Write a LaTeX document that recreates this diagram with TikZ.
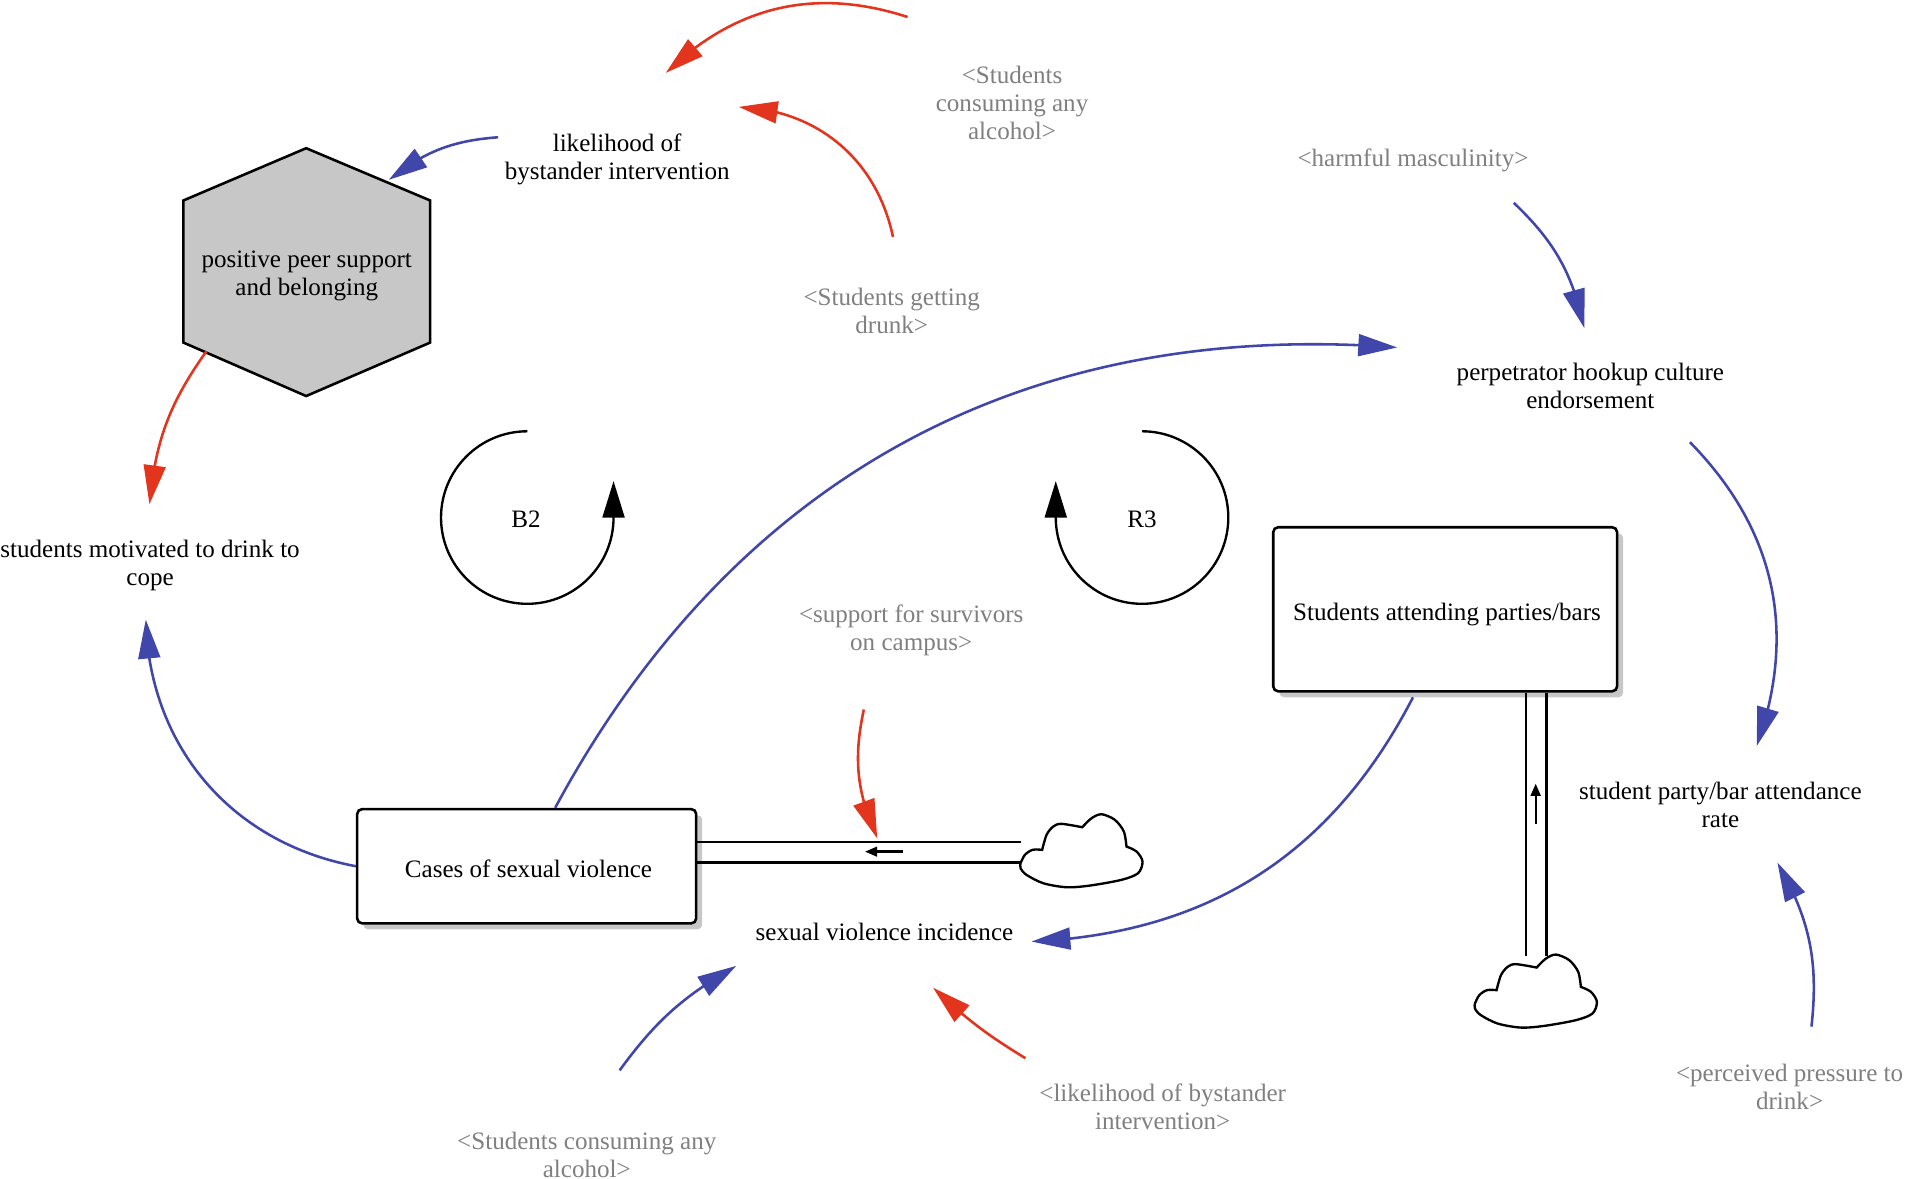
\documentclass[tikz,border=0pt]{standalone}
\usepackage{fontspec}
\setmainfont{Liberation Serif}
\usetikzlibrary{arrows.meta,bending,shadows}

\definecolor{linkblue}{RGB}{64,70,170}
\definecolor{linkred}{RGB}{227,52,30}

\tikzset{
  every node/.append style={font=\fontsize{5.87}{6.55}\selectfont, align=center, inner sep=0pt},
  var/.style={text=black},
  ghost/.style={text=black!50},
  stock/.style={draw=black, line width=0.6pt, rounded corners=0.04cm, fill=white,
    drop shadow={shadow xshift=0.05cm, shadow yshift=-0.05cm, fill=black!22, opacity=1}},
  linkb/.style={-{Triangle[length=0.32cm, width=0.18cm, flex]}, draw=linkblue, line width=0.6pt},
  linkr/.style={-{Triangle[length=0.32cm, width=0.18cm, flex]}, draw=linkred, line width=0.6pt},
  pipe/.style={draw=black, line width=0.55pt},
  flowtip/.style={-{Triangle[length=0.10cm, width=0.08cm]}, draw=black, line width=0.55pt},
  looptip/.style={-{Triangle[length=0.30cm, width=0.18cm]}, draw=black, line width=0.55pt},
  flowcloud/.pic={
    \draw [line width=0.55pt, fill=white]
      plot [smooth] coordinates {(0,0) (0.036,0.069) (0.099,0.110) (0.178,0.110)}
      -- plot [smooth] coordinates {(0.178,0.110) (0.214,0.233) (0.269,0.302) (0.337,0.324) (0.508,0.296)}
      -- plot [smooth] coordinates {(0.508,0.296) (0.584,0.370) (0.667,0.403) (0.776,0.357) (0.850,0.261) (0.872,0.137)}
      -- plot [smooth] coordinates {(0.872,0.137) (0.955,0.096) (1.004,0.014) (0.968,-0.082) (0.831,-0.137)
        (0.571,-0.184) (0.379,-0.198) (0.187,-0.165) (0.049,-0.096) (0,-0.041) (0,0)};
  }
}

\begin{document}
\begin{tikzpicture}

\useasboundingbox (0, 0) rectangle (15.68, 9.70);

\draw [line width=0.6pt, fill=black!22] (2.52, 8.48) -- (3.54, 8.05) -- (3.54, 6.88) -- (2.52, 6.44) -- (1.51, 6.88) -- (1.51, 8.05) -- cycle;

\node [var] (likelihood) at (5.08, 8.39) {likelihood of\\bystander intervention};
\node [var] (peer) at (2.525, 7.425) {positive peer support\\and belonging};
\node [var] (motivated) at (1.235, 5.045) {students motivated to drink to\\cope};
\node [var] (hookup) at (13.09, 6.52) {perpetrator hookup culture\\endorsement};
\node [var] (rate) at (14.16, 3.075) {student party/bar attendance\\rate};
\node [var] (incidence) at (7.28, 2.03) {sexual violence incidence};

\node [ghost] (consuming) at (8.33, 8.85) {<Students\\consuming any\\alcohol>};
\node [ghost] (harmful) at (11.63, 8.38) {<harmful masculinity>};
\node [ghost] (drunk) at (7.34, 7.14) {<Students getting\\drunk>};
\node [ghost] (survivors) at (7.50, 4.515) {<support for survivors\\on campus>};
\node [ghost] (consumingtwo) at (4.83, 0.19) {<Students consuming any\\alcohol>};
\node [ghost] (bystander) at (9.57, 0.59) {<likelihood of bystander\\intervention>};
\node [ghost] (pressure) at (14.73, 0.75) {<perceived pressure to\\drink>};

\node [stock, minimum width=2.79cm, minimum height=0.94cm] (cases) at (4.335, 2.57) {};
\node [var] (casestext) at (4.35, 2.545) {Cases of sexual violence};
\node [stock, minimum width=2.83cm, minimum height=1.35cm] (attending) at (11.895, 4.685) {};
\node [var] (attendingtext) at (11.91, 4.645) {Students attending parties/bars};

\node [var] (B2) at (4.33, 5.425) {B2};
\node [var] (R3) at (9.40, 5.425) {R3};

% free ends
\coordinate (consumingOut) at (7.47, 9.56);
\coordinate (likelihoodInA) at (5.48, 9.10);
\coordinate (drunkOut) at (7.35, 7.75);
\coordinate (likelihoodInB) at (6.08, 8.82);
\coordinate (likelihoodOut) at (4.10, 8.57);
\coordinate (peerIn) at (3.20, 8.22);
\coordinate (peerOut) at (1.70, 6.81);
\coordinate (motivatedInA) at (1.23, 5.55);
\coordinate (motivatedInB) at (1.20, 4.60);
\coordinate (hookupIn) at (11.50, 6.84);
\coordinate (harmfulOut) at (12.46, 8.03);
\coordinate (hookupInB) at (13.04, 7.00);
\coordinate (hookupOut) at (13.91, 6.06);
\coordinate (rateIn) at (14.46, 3.56);
\coordinate (pressureOut) at (14.91, 1.25);
\coordinate (rateInB) at (14.63, 2.60);
\coordinate (attendingOut) at (11.63, 3.96);
\coordinate (incidenceIn) at (8.49, 1.95);
\coordinate (consumingtwoOut) at (5.10, 0.89);
\coordinate (incidenceInB) at (6.06, 1.75);
\coordinate (bystanderOut) at (8.44, 0.99);
\coordinate (incidenceInC) at (7.68, 1.57);
\coordinate (survivorsOut) at (7.11, 3.86);
\coordinate (pipeIn) at (7.22, 2.80);
\coordinate (cloudAtop) at (8.40, 2.767);
\coordinate (cloudAlow) at (8.40, 2.60);
\coordinate (cloudBleft) at (12.56, 1.83);
\coordinate (cloudBright) at (12.73, 1.83);

\draw [linkr, bend right=31] (consumingOut) to (likelihoodInA);
\draw [linkr, bend right=38] (drunkOut) to (likelihoodInB);
\draw [linkb, bend right=17] (likelihoodOut) to (peerIn);
\draw [linkr, bend right=15] (peerOut) to (motivatedInA);
\draw [linkb, bend left=39] (cases.west) to (motivatedInB);
\draw [linkb, bend left=33] (cases.64) to (hookupIn);
\draw [linkb, bend left=17] (harmfulOut) to (hookupInB);
\draw [linkb, bend left=32] (hookupOut) to (rateIn);
\draw [linkb, bend right=18] (pressureOut) to (rateInB);
\draw [linkb, bend left=30] (attendingOut) to (incidenceIn);
\draw [linkb, bend left=12] (consumingtwoOut) to (incidenceInB);
\draw [linkr, bend left=6] (bystanderOut) to (incidenceInC);
\draw [linkr, bend right=18] (survivorsOut) to (pipeIn);

\draw [pipe] (cases.east |- cloudAtop) -- (cloudAtop);
\draw [pipe] (cases.east |- cloudAlow) -- (cloudAlow);
\draw [pipe] (attending.south -| cloudBleft) -- (cloudBleft);
\draw [pipe] (attending.south -| cloudBright) -- (cloudBright);
\draw [flowtip] (7.43, 2.69) -- (7.12, 2.69);
\draw [flowtip] (12.64, 2.92) -- (12.64, 3.25);

\pic (cloudA) at (8.40, 2.595) {flowcloud};
\pic (cloudB) at (12.14, 1.44) {flowcloud};

\draw [looptip] (B2) ++(0.01, 0.725) arc [start angle=90, end angle=360, radius=0.71] -- ++(0, 0.30);
\draw [looptip] (R3) ++(0, 0.725) arc [start angle=90, end angle=-180, radius=0.71] -- ++(0, 0.30);

\end{tikzpicture}
\end{document}
